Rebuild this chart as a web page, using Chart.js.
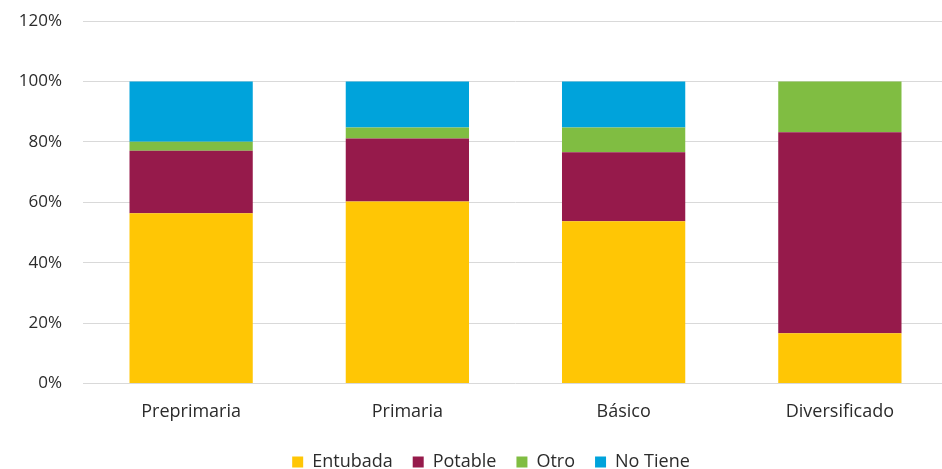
<!DOCTYPE html>
<html>
<head>
<meta charset="utf-8">
<script src="https://cdn.jsdelivr.net/npm/chart.js@4.4.1/dist/chart.umd.min.js"></script>
<style>
  html, body { margin: 0; padding: 0; background: #fff; overflow: hidden; }
  #wrap { width: 948px; height: 491px; margin-top: -10px; }
</style>
</head>
<body>
<div id="wrap"><canvas id="chart"></canvas></div>
<script>
// categorías y porcentajes por tipo de agua
const categorias = ['Preprimaria', 'Primaria', 'Básico', 'Diversificado'];
const entubada = [56.4, 60.3, 53.7, 16.6];
const potable  = [20.7, 20.8, 22.9, 66.6];
const otro     = [3.0, 3.7, 8.2, 16.8];
const noTiene  = [19.9, 15.2, 15.2, 0];
const yTicks   = [0, 20, 40, 60, 80, 100, 120];

const colores = {
  Entubada:   '#FFC605',
  Potable:    '#961A4B',
  Otro:       '#80BD42',
  'No Tiene': '#00A3DB'
};

const fuente = "'Open Sans', 'Noto Sans', sans-serif";
const gris = '#2b2b2b';

const ds = (label, data) => ({
  label, data,
  backgroundColor: colores[label],
  borderWidth: 0,
  barPercentage: 0.57,
  categoryPercentage: 1.0
});

// desplaza la leyenda un poco a la derecha, como en el original
const correrLeyenda = {
  id: 'correrLeyenda',
  afterLayout(chart) {
    if (!chart.legend) return;
    chart.legend.left += 17;
    chart.legend.right += 17;
  }
};

new Chart(document.getElementById('chart'), {
  type: 'bar',
  data: {
    labels: categorias,
    datasets: [
      ds('Entubada', entubada),
      ds('Potable', potable),
      ds('Otro', otro),
      ds('No Tiene', noTiene)
    ]
  },
  plugins: [correrLeyenda],
  options: {
    responsive: true,
    maintainAspectRatio: false,
    animation: false,
    layout: { padding: 0 },
    plugins: {
      tooltip: { enabled: false },
      legend: {
        position: 'bottom',
        labels: {
          color: gris,
          font: { family: fuente, size: 18 },
          boxWidth: 11,
          boxHeight: 11,
          padding: 20
        }
      }
    },
    scales: {
      x: {
        stacked: true,
        grid: { display: false },
        border: { display: false },
        ticks: { color: gris, font: { family: fuente, size: 18 }, padding: 10 }
      },
      y: {
        stacked: true,
        min: 0,
        max: 120,
        afterFit: s => { s.width = 83; },
        afterBuildTicks: s => { s.ticks = yTicks.map(v => ({ value: v })); },
        grid: { color: '#d9d9d9', lineWidth: 1, drawTicks: false },
        border: { display: false },
        ticks: {
          color: gris,
          font: { family: fuente, size: 17 },
          padding: 21,
          callback: v => v + '%'
        }
      }
    }
  }
});
</script>
</body>
</html>
